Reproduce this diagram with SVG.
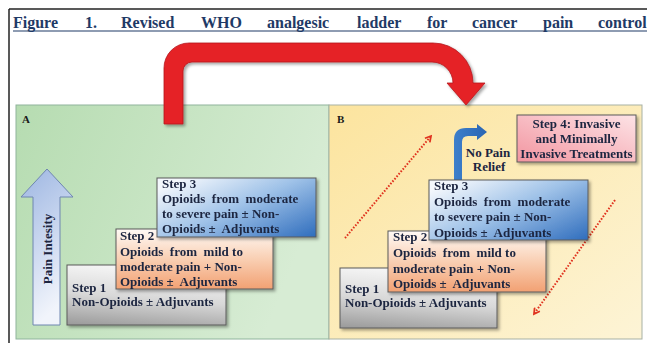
<svg xmlns="http://www.w3.org/2000/svg" width="647" height="343" viewBox="0 0 647 343">
<defs>
<style>
.title{font-family:"Liberation Serif","Times New Roman",serif;font-weight:bold;font-size:16px;fill:#1f3a66}
.t{font-family:"Liberation Serif","Times New Roman",serif;font-weight:bold;font-size:13px;fill:#1c2540}
.lbl{font-family:"Liberation Serif","Times New Roman",serif;font-weight:bold;font-size:11px;fill:#1a1a1a}
.box{stroke:#5a5a5a;stroke-width:1}
.dot{fill:none;stroke:#e0321e;stroke-width:2;stroke-dasharray:1.6 1.6}
</style>
<linearGradient id="gA" x1="0" y1="0" x2="1" y2="0.3">
<stop offset="0" stop-color="#b6dcb1"/><stop offset="1" stop-color="#d7ecd4"/>
</linearGradient>
<linearGradient id="gB" x1="0" y1="0" x2="1" y2="1">
<stop offset="0" stop-color="#fce49e"/><stop offset="1" stop-color="#fdf4d6"/>
</linearGradient>
<linearGradient id="g1" x1="0.3" y1="0" x2="0.1" y2="1">
<stop offset="0" stop-color="#f6f6f6"/><stop offset="0.5" stop-color="#d8d8d8"/><stop offset="1" stop-color="#9c9c9c"/>
</linearGradient>
<linearGradient id="g2" x1="0" y1="0" x2="0" y2="1">
<stop offset="0" stop-color="#fffaf6"/><stop offset="0.5" stop-color="#f9cfb3"/><stop offset="1" stop-color="#f2a173"/>
</linearGradient>
<linearGradient id="g3" x1="0" y1="0.2" x2="1" y2="1">
<stop offset="0" stop-color="#f3f7fc"/><stop offset="0.45" stop-color="#9fc2e8"/><stop offset="1" stop-color="#2f6dbd"/>
</linearGradient>
<linearGradient id="g4" x1="0" y1="1" x2="1" y2="0">
<stop offset="0" stop-color="#f295a0"/><stop offset="1" stop-color="#fde3e6"/>
</linearGradient>
<linearGradient id="gP" x1="0" y1="0" x2="0.3" y2="1">
<stop offset="0" stop-color="#9db6e2"/><stop offset="1" stop-color="#f1f4fb"/>
</linearGradient>
<linearGradient id="gBlue" x1="0" y1="0" x2="1" y2="0">
<stop offset="0" stop-color="#3d7fcb"/><stop offset="1" stop-color="#2a65b3"/>
</linearGradient>
<filter id="sh" x="-10%" y="-10%" width="125%" height="130%">
<feDropShadow dx="2" dy="2" stdDeviation="1.5" flood-color="#000" flood-opacity="0.35"/>
</filter>
<marker id="chev" viewBox="0 0 10 10" refX="8" refY="5" markerWidth="4" markerHeight="4" orient="auto" markerUnits="strokeWidth">
<path d="M1,1 L8,5 L1,9" fill="none" stroke="#e0321e" stroke-width="2.2"/>
</marker>
</defs>

<rect width="647" height="343" fill="#ffffff"/>

<g id="frame">
<line x1="9" y1="9" x2="647" y2="9" stroke="#222" stroke-width="1.5"/>
<line x1="9" y1="9" x2="9" y2="343" stroke="#222" stroke-width="1.5"/>
</g>

<g id="title">
<text class="title" x="13" y="28">Figure</text>
<text class="title" x="85" y="28">1.</text>
<text class="title" x="121" y="28">Revised</text>
<text class="title" x="201" y="28">WHO</text>
<text class="title" x="267" y="28">analgesic</text>
<text class="title" x="357" y="28">ladder</text>
<text class="title" x="427" y="28">for</text>
<text class="title" x="472" y="28">cancer</text>
<text class="title" x="543" y="28">pain</text>
<text class="title" x="598" y="28">control</text>
<line x1="13" y1="31" x2="647" y2="31" stroke="#1f3a66" stroke-width="1.2"/>
</g>

<g id="panelA">
<rect x="16" y="105" width="313" height="234" fill="url(#gA)" stroke="#8fb49c" stroke-width="1"/>
<text class="lbl" x="22" y="123">A</text>
</g>
<g id="panelB">
<rect x="329" y="105" width="313" height="234" fill="url(#gB)" stroke="#a7b1a4" stroke-width="1"/>
<text class="lbl" x="337" y="123">B</text>
</g>

<g id="painArrow">
<path d="M33,325 L33,197 L21,197 L47,169 L73,197 L60,197 L60,325 Z" fill="url(#gP)" stroke="#6f86b0" stroke-width="1"/>
<text class="t" font-size="13.5" transform="translate(52,249) rotate(-90)" text-anchor="middle">Pain Intesity</text>
</g>

<g id="stepA1" filter="url(#sh)">
<rect class="box" x="67" y="265" width="159" height="60" fill="url(#g1)"/>
<text class="t" x="72" y="292">Step 1</text>
<text class="t" x="72" y="306">Non-Opioids ± Adjuvants</text>
</g>
<g id="stepA2" filter="url(#sh)">
<rect class="box" x="116" y="229" width="157" height="60" fill="url(#g2)"/>
<text class="t" x="120" y="240">Step 2</text>
<text class="t" x="120" y="256" xml:space="preserve">Opioids  from  mild to</text>
<text class="t" x="120" y="271">moderate pain + Non-</text>
<text class="t" x="120" y="286" xml:space="preserve">Opioids ±  Adjuvants</text>
</g>
<g id="stepA3" filter="url(#sh)">
<rect class="box" x="157" y="178" width="159" height="59" fill="url(#g3)"/>
<text class="t" x="162" y="188">Step 3</text>
<text class="t" x="162" y="203" xml:space="preserve">Opioids  from  moderate</text>
<text class="t" x="162" y="218">to severe pain ± Non-</text>
<text class="t" x="162" y="233" xml:space="preserve">Opioids ±  Adjuvants</text>
</g>

<g id="connectors">
<path id="redArrow" d="M164,124 L164,68 A25,25 0 0 1 189,43 L433,43 A40,40 0 0 1 473,83 L485,83 L466,105 L447,83 L453,83 A21,21 0 0 0 432,62 L192,62 A9,9 0 0 0 183,71 L183,124 Z" fill="#e52228" stroke="#b5181d" stroke-width="0.8" filter="url(#sh)"/>
<path id="noRelief" d="M454,182 L454,140 Q454,128 466,128 L477,128 L477,124 L487,132 L477,140 L477,136 L468,136 Q462,136 462,142 L462,182 Z" fill="url(#gBlue)"/>
<line class="dot" x1="345" y1="238" x2="431" y2="136" marker-end="url(#chev)"/>
<line class="dot" x1="615" y1="200" x2="534" y2="314" marker-end="url(#chev)"/>
</g>

<g id="noReliefLabel">
<text class="t" x="488" y="157" text-anchor="middle">No Pain</text>
<text class="t" x="489" y="171" text-anchor="middle">Relief</text>
</g>

<g id="stepB1" filter="url(#sh)">
<rect class="box" x="340" y="268" width="157" height="60" fill="url(#g1)"/>
<text class="t" x="345" y="293">Step 1</text>
<text class="t" x="345" y="307">Non-Opioids ± Adjuvants</text>
</g>
<g id="stepB2" filter="url(#sh)">
<rect class="box" x="388" y="231" width="158" height="61" fill="url(#g2)"/>
<text class="t" x="393" y="241">Step 2</text>
<text class="t" x="393" y="257" xml:space="preserve">Opioids  from  mild to</text>
<text class="t" x="393" y="273">moderate pain + Non-</text>
<text class="t" x="393" y="288" xml:space="preserve">Opioids ±  Adjuvants</text>
</g>
<g id="stepB3" filter="url(#sh)">
<rect class="box" x="429" y="180" width="159" height="60" fill="url(#g3)"/>
<text class="t" x="434" y="190">Step 3</text>
<text class="t" x="434" y="206" xml:space="preserve">Opioids  from  moderate</text>
<text class="t" x="434" y="221">to severe pain ± Non-</text>
<text class="t" x="434" y="237" xml:space="preserve">Opioids ±  Adjuvants</text>
</g>
<g id="stepB4" filter="url(#sh)">
<rect class="box" x="517" y="115" width="119" height="47" fill="url(#g4)"/>
<text class="t" x="576.5" y="128" text-anchor="middle">Step 4: Invasive</text>
<text class="t" x="576.5" y="143" text-anchor="middle">and Minimally</text>
<text class="t" x="576.5" y="158" text-anchor="middle">Invasive Treatments</text>
</g>
</svg>
